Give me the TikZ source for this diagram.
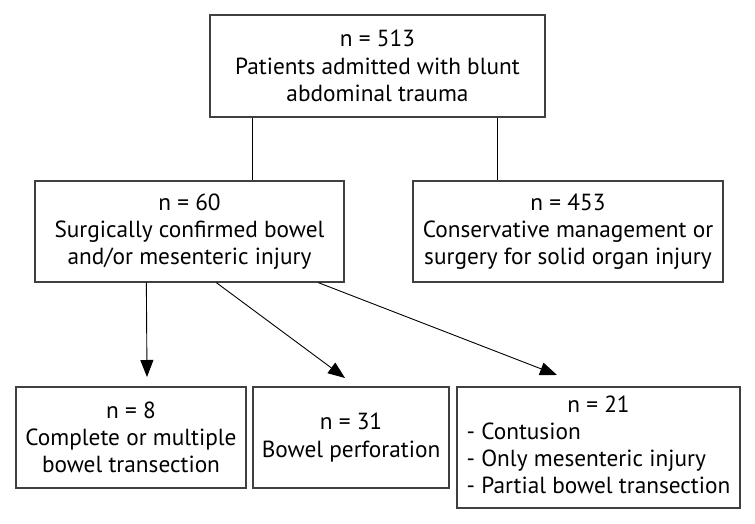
\documentclass[tikz,border=0pt]{standalone}
\usepackage{fontspec}
\setmainfont{PT Sans}
\usetikzlibrary{arrows.meta}
\begin{document}
\begin{tikzpicture}[x=1pt,y=-1pt,
  box/.style={draw=black!75, line width=1.3pt, inner sep=0pt, align=center,
    font=\fontsize{23.3}{27.2}\selectfont},
  link/.style={line width=0.9pt},
  arr/.style={line width=0.9pt, -{Triangle[length=17pt,width=13pt]}}]
\useasboundingbox[fill=white] (0,0) rectangle (755,524);
\node[box, minimum width=335pt, minimum height=102pt] (top) at (377.5,66)
  {n = 513\\Patients admitted with blunt\\abdominal trauma};
\node[box, minimum width=309pt, minimum height=101pt] (mid1) at (189.5,231.5)
  {n = 60\\Surgically confirmed bowel\\and/or mesenteric injury};
\node[box, minimum width=310pt, minimum height=101pt] (mid2) at (568,231.5)
  {n = 453\\Conservative management or\\surgery for solid organ injury};
\node[box, minimum width=230pt, minimum height=101pt] (b1) at (131,437.5)
  {n = 8\\Complete or multiple\\bowel transection};
\node[box, minimum width=196pt, minimum height=101pt] (b2) at (351,437.5)
  {n = 31\\Bowel perforation};
\node[box, minimum width=283pt, minimum height=121pt] (b3) at (598.5,447.5)
  {\begin{tabular}{@{}l@{}}\multicolumn{1}{c}{n = 21}\\- Contusion\\- Only mesenteric injury\\- Partial bowel transection\end{tabular}};
\draw[link] ([xshift=43pt]top.south west) -- ([xshift=43pt]top.south west |- mid1.north);
\draw[link] ([xshift=-48pt]top.south east) -- ([xshift=-48pt]top.south east |- mid2.north);
\coordinate (t1) at (147,377);
\coordinate (t2) at (345,378);
\coordinate (t3) at (557,375);
\draw[arr] ([xshift=112pt]mid1.south west) -- (t1);
\draw[arr] ([xshift=182pt]mid1.south west) -- (t2);
\draw[arr] ([xshift=284pt]mid1.south west) -- (t3);
\end{tikzpicture}
\end{document}
